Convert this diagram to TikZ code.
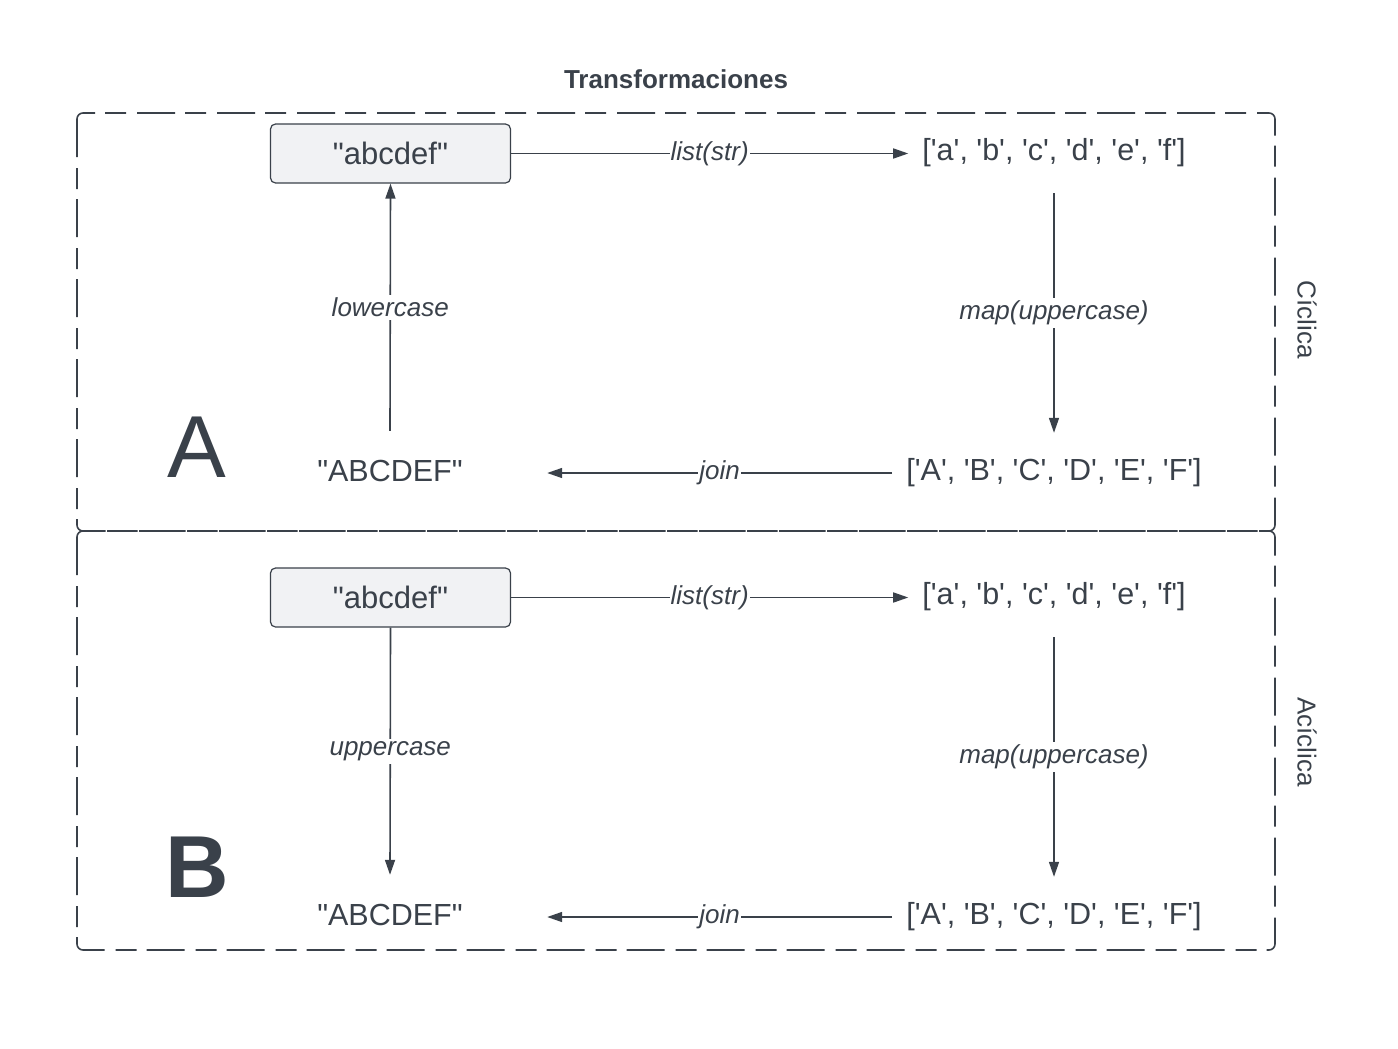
\documentclass[tikz,border=0pt]{standalone}
\usepackage{fontspec}
\setmainfont{Liberation Sans}[Ligatures=TeXOff]
\usepackage{xcolor}
\usetikzlibrary{arrows.meta,positioning}
\definecolor{inkgray}{RGB}{58,65,74}
\definecolor{boxgray}{RGB}{241,242,244}
\tikzset{
  panel/.style={draw=inkgray, line width=1.6pt, rounded corners=6pt, dash pattern=on 38pt off 11pt on 21pt off 10pt},
  strbox/.style={rectangle, rounded corners=5pt, draw=inkgray, line width=1.2pt, fill=boxgray, minimum width=240pt, minimum height=59pt, inner sep=0pt, font=\fontsize{31}{36}\selectfont, text=inkgray},
  val/.style={rectangle, inner xsep=14pt, inner ysep=0pt, minimum height=80pt, font=\fontsize{30.5}{36}\selectfont, text=inkgray},
  op/.style={-{Triangle[length=15pt,width=10pt]}, line width=1.6pt, draw=inkgray},
  oplabel/.style={fill=white, inner xsep=1pt, inner ysep=3pt, font=\itshape\fontsize{26}{30}\selectfont, text=inkgray},
  panelname/.style={rotate=-90, font=\fontsize{26}{30}\selectfont, text=inkgray},
  bigletter/.style={font=\fontsize{88}{96}\selectfont, text=inkgray}
}
\begin{document}
\begin{tikzpicture}[x=1pt,y=-1pt]
  \useasboundingbox (0,0) rectangle (1398,1049);
  \node[font=\bfseries\fontsize{26}{30}\selectfont, text=inkgray] (title) at (676,79) {Transformaciones};

  % cyclic transformation
  \draw[panel] (77,113) rectangle (1275,531);
  \node[strbox] (absA) at (390.5,153.5) {"abcdef"};
  \node[val] (lstA) at (1054,153) {['a', 'b', 'c', 'd', 'e', 'f']};
  \node[val] (upA) at (1054,473) {['A', 'B', 'C', 'D', 'E', 'F']};
  \node[val, minimum width=314pt] (strA) at (390,471) {"ABCDEF"};
  \node[bigletter] (nameA) at (197,447) {A};
  \node[panelname] (kindA) at (1307,320) {Cíclica};
  \draw[op] (absA.east) -- node[oplabel] {list(str)} (absA.east -| lstA.west);
  \draw[op] (lstA.south) -- node[oplabel] {map(uppercase)} (upA.north);
  \draw[op] (upA.west) -- node[oplabel] {join} (upA.west -| strA.east);
  \draw[op] (strA.north) -- node[oplabel] {lowercase} (absA.south);

  % acyclic transformation
  \draw[panel] (77,531) rectangle (1275,950);
  \node[strbox] (absB) at (390.5,597.5) {"abcdef"};
  \node[val] (lstB) at (1054,597) {['a', 'b', 'c', 'd', 'e', 'f']};
  \node[val] (upB) at (1054,917) {['A', 'B', 'C', 'D', 'E', 'F']};
  \node[val, minimum width=314pt] (strB) at (390,915) {"ABCDEF"};
  \node[bigletter, font=\bfseries\fontsize{88}{96}\selectfont] (nameB) at (197,867) {B};
  \node[panelname] (kindB) at (1307,742) {Acíclica};
  \draw[op] (absB.east) -- node[oplabel] {list(str)} (absB.east -| lstB.west);
  \draw[op] (lstB.south) -- node[oplabel] {map(uppercase)} (upB.north);
  \draw[op] (upB.west) -- node[oplabel] {join} (upB.west -| strB.east);
  \draw[op] (absB.south) -- node[oplabel] {uppercase} (strB.north);
\end{tikzpicture}
\end{document}
